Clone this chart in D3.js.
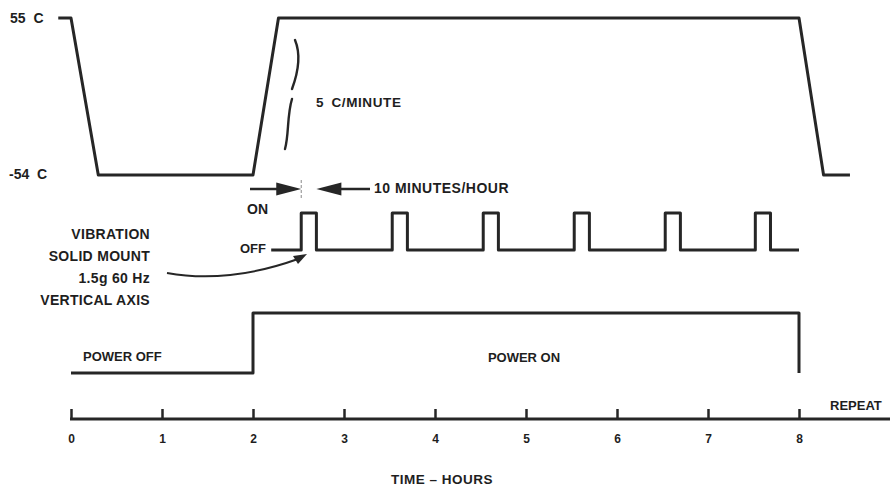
<!DOCTYPE html>
<html>
<head>
<meta charset="utf-8">
<script src="https://cdn.jsdelivr.net/npm/d3@7"></script>
<style>
  html, body { margin: 0; padding: 0; background: #fff; }
  svg { display: block; }
  text { font-family: "Liberation Sans", Arial, sans-serif; font-weight: bold; fill: #1e1e1e; }
</style>
</head>
<body>
<svg id="chart" width="890" height="488"></svg>
<script>
// ---- data ----
const tempTimes  = [-0.14, 0, 0.3, 2.0, 2.28, 8.0, 8.27, 8.56];
const tempValues = [55, 55, -54, -54, 55, 55, -54, -54];
const tempLabels = ["55 C", "-54 C"];

const vibStarts = [2.53, 3.53, 4.53, 5.53, 6.53, 7.52];
const vibDurationHours = 10 / 60;
const vibSpan = [2.2, 8.0];

const powerTimes  = [0, 2, 2, 8, 8];
const powerStates = [0, 0, 1, 1, 0];

const hourTicks = [0, 1, 2, 3, 4, 5, 6, 7, 8];

// ---- scales ----
const svg = d3.select("#chart");
const W = 890;
const x = d3.scaleLinear().domain([0, 8]).range([71, 799]);
const yTemp = d3.scaleLinear().domain([-54, 55]).range([175, 18]);
const yVib = d3.scaleLinear().domain([0, 1]).range([250, 213]);
const yPow = d3.scaleLinear().domain([0, 1]).range([373, 313]);
const ink = "#262626";

const line = d3.line();

// ---- temperature profile ----
svg.append("path")
  .attr("d", line(tempTimes.map((t, i) => [x(t), yTemp(tempValues[i])])))
  .attr("fill", "none").attr("stroke", ink).attr("stroke-width", 3)
  .attr("stroke-linejoin", "round");

svg.append("text").attr("x", 10).attr("y", yTemp(55)).attr("dy", "0.36em")
  .style("font-size", "14px").style("word-spacing", "4px").text(tempLabels[0]);
svg.append("text").attr("x", 9).attr("y", yTemp(-54) - 1).attr("dy", "0.36em")
  .style("font-size", "14px").style("word-spacing", "4px").text(tempLabels[1]);

// brace beside the ramp
svg.append("path")
  .attr("d", "M295,40 C300,52 299,70 292,89")
  .attr("fill", "none").attr("stroke", ink).attr("stroke-width", 2.4).attr("stroke-linecap", "round");
svg.append("path")
  .attr("d", "M292,99 C287,115 289,135 285,149")
  .attr("fill", "none").attr("stroke", ink).attr("stroke-width", 2.4).attr("stroke-linecap", "round");
svg.append("text").attr("x", 316).attr("y", 102).attr("dy", "0.36em")
  .style("font-size", "13.5px").style("letter-spacing", "0.6px").style("word-spacing", "3px")
  .text("5 C/MINUTE");

// ---- vibration pulses ----
const vibPts = [[vibSpan[0], 0]];
vibStarts.forEach(s => {
  vibPts.push([s, 0], [s, 1], [s + vibDurationHours, 1], [s + vibDurationHours, 0]);
});
vibPts.push([vibSpan[1], 0]);
svg.append("path")
  .attr("d", line(vibPts.map(p => [x(p[0]), yVib(p[1])])))
  .attr("fill", "none").attr("stroke", ink).attr("stroke-width", 3)
  .attr("stroke-linejoin", "round");

svg.append("text").attr("x", 247).attr("y", 209).attr("dy", "0.36em")
  .style("font-size", "14px").text("ON");
svg.append("text").attr("x", 240).attr("y", 248).attr("dy", "0.36em")
  .style("font-size", "13px").text("OFF");

// 10 minutes/hour dimension arrows
const a0 = x(vibStarts[0]), a1 = x(vibStarts[0] + vibDurationHours), ay = 189;
svg.append("line").attr("x1", 250).attr("x2", a0 - 20).attr("y1", ay).attr("y2", ay)
  .attr("stroke", ink).attr("stroke-width", 2.5);
svg.append("path").attr("d", `M${a0},${ay} L${a0 - 25},${ay - 6.5} L${a0 - 25},${ay + 6.5} Z`).attr("fill", ink);
svg.append("line").attr("x1", a1 + 20).attr("x2", 370).attr("y1", ay).attr("y2", ay)
  .attr("stroke", ink).attr("stroke-width", 2.5);
svg.append("path").attr("d", `M${a1},${ay} L${a1 + 25},${ay - 6.5} L${a1 + 25},${ay + 6.5} Z`).attr("fill", ink);
svg.append("line").attr("x1", a0).attr("x2", a0).attr("y1", 180).attr("y2", 198)
  .attr("stroke", "#888").attr("stroke-width", 1).attr("stroke-dasharray", "3,2");
svg.append("text").attr("x", 374).attr("y", 188).attr("dy", "0.36em")
  .style("font-size", "14px").style("letter-spacing", "0.5px").text("10 MINUTES/HOUR");

// vibration description
const vibLabels = ["VIBRATION", "SOLID MOUNT", "1.5g 60 Hz", "VERTICAL AXIS"];
svg.append("g").selectAll("text").data(vibLabels).join("text")
  .attr("x", 150).attr("y", (d, i) => 234 + i * 22).attr("dy", "0.36em")
  .attr("text-anchor", "end").style("font-size", "14px").style("letter-spacing", "0.3px")
  .text(d => d);

// curved pointer
svg.append("path").attr("d", "M167,273 Q228,284 298,259")
  .attr("fill", "none").attr("stroke", ink).attr("stroke-width", 2);
svg.append("path").attr("d", "M307,254 L293,256 L298,264 Z").attr("fill", ink);

// ---- power ----
svg.append("path")
  .attr("d", line(powerTimes.map((t, i) => [x(t), yPow(powerStates[i])])))
  .attr("fill", "none").attr("stroke", ink).attr("stroke-width", 3)
  .attr("stroke-linejoin", "round");
svg.append("text").attr("x", 83).attr("y", 356).attr("dy", "0.36em")
  .style("font-size", "13px").text("POWER OFF");
svg.append("text").attr("x", 524).attr("y", 357).attr("dy", "0.36em")
  .attr("text-anchor", "middle").style("font-size", "13px").text("POWER ON");

// ---- time axis ----
const axisY = 419;
svg.append("line").attr("x1", x(0) - 1).attr("x2", W).attr("y1", axisY).attr("y2", axisY)
  .attr("stroke", ink).attr("stroke-width", 3);
const axis = d3.axisBottom(x).tickValues(hourTicks).tickFormat(d3.format("d"))
  .tickSizeInner(-10).tickSizeOuter(0).tickPadding(15);
const gAxis = svg.append("g").attr("transform", `translate(0,${axisY})`).call(axis);
gAxis.select(".domain").remove();
gAxis.selectAll(".tick line").attr("stroke", ink).attr("stroke-width", 2.5);
gAxis.selectAll(".tick text").attr("fill", "#1e1e1e")
  .style("font-family", "'Liberation Sans', Arial, sans-serif")
  .style("font-weight", "bold").style("font-size", "12px");

svg.append("text").attr("x", 830).attr("y", 405).attr("dy", "0.36em")
  .style("font-size", "13px").text("REPEAT");
svg.append("text").attr("x", 442).attr("y", 479).attr("dy", "0.36em")
  .attr("text-anchor", "middle").style("font-size", "13.5px").style("letter-spacing", "0.5px")
  .text("TIME – HOURS");
</script>
</body>
</html>
